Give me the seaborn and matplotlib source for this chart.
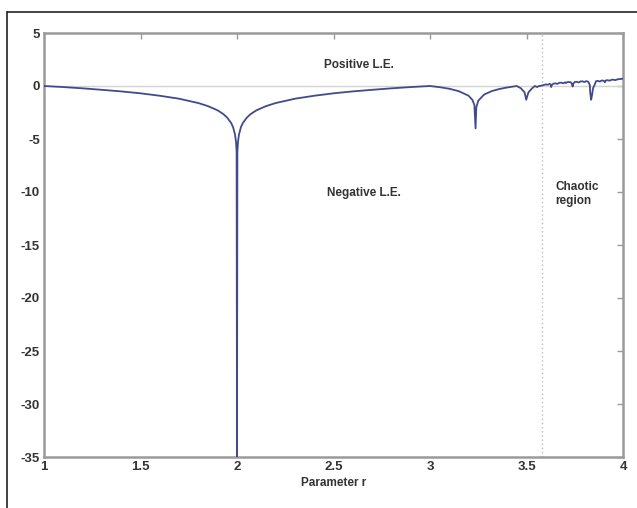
import matplotlib
matplotlib.use("Agg")
import matplotlib.pyplot as plt
import seaborn as sns
import pandas as pd
from matplotlib.lines import Line2D

# Values (parameter r, Lyapunov exponent)
r_values = [
    1.0, 1.1, 1.2, 1.3, 1.4, 1.5, 1.6, 1.7, 1.8, 1.85, 1.9, 1.93, 1.95, 1.97,
    1.98, 1.99, 1.995, 1.998, 2.0, 2.002, 2.005, 2.01, 2.02, 2.03, 2.05, 2.07,
    2.1, 2.15, 2.2, 2.3, 2.4, 2.5, 2.6, 2.7, 2.8, 2.9, 3.0,
    3.05, 3.1, 3.15, 3.2, 3.22, 3.23, 3.236, 3.24, 3.25, 3.28, 3.32, 3.36,
    3.4, 3.449,
    3.47, 3.49, 3.4986, 3.51, 3.53, 3.544, 3.555, 3.5644, 3.57,
    3.575, 3.58, 3.59, 3.60, 3.61, 3.62, 3.625, 3.628, 3.631, 3.64, 3.65,
    3.66, 3.67, 3.68, 3.69, 3.70, 3.705, 3.71, 3.72, 3.73, 3.735, 3.739,
    3.742, 3.75, 3.76, 3.77, 3.78, 3.79, 3.80, 3.81, 3.82, 3.828, 3.83,
    3.835, 3.84, 3.845, 3.855, 3.86, 3.87, 3.88, 3.89, 3.90, 3.906, 3.91,
    3.92, 3.93, 3.94, 3.95, 3.96, 3.97, 3.98, 3.99, 4.0,
]
le_values = [
    0.0, -0.1, -0.22, -0.36, -0.51, -0.69, -0.92, -1.2, -1.61, -1.9, -2.3,
    -2.66, -3.0, -3.5, -3.9, -4.6, -5.3, -6.2, -35.0, -6.2, -5.3, -4.6, -3.9,
    -3.5, -3.0, -2.66, -2.3, -1.9, -1.61, -1.2, -0.92, -0.69, -0.51, -0.36,
    -0.22, -0.1, 0.0,
    -0.11, -0.26, -0.49, -0.92, -1.32, -1.8, -4.0, -2.0, -1.39, -0.81, -0.48,
    -0.28, -0.14, 0.0,
    -0.2, -0.6, -1.3, -0.6, -0.2, 0.0, -0.1, 0.0, 0.0,
    0.02, 0.05, 0.1, 0.15, 0.12, 0.2, 0.15, -0.1, 0.1, 0.22, 0.25,
    0.2, 0.3, 0.32, 0.25, 0.35, 0.28, 0.36, 0.38, 0.35, 0.2, -0.05,
    0.2, 0.38, 0.4, 0.33, 0.43, 0.44, 0.38, 0.46, 0.4, 0.1, -0.6,
    -1.3, -0.8, -0.2, 0.2, 0.45, 0.48, 0.42, 0.52, 0.5, 0.35, 0.52,
    0.55, 0.5, 0.58, 0.6, 0.55, 0.62, 0.65, 0.67, 0.69,
]
x_ticks = [1, 1.5, 2, 2.5, 3, 3.5, 4]
x_tick_labels = ["1", "1.5", "2", "2.5", "3", "3.5", "4"]
y_ticks = [5, 0, -5, -10, -15, -20, -25, -30, -35]
y_tick_labels = ["5", "0", "-5", "-10", "-15", "-20", "-25", "-30", "-35"]
chaos_onset = 3.58

df = pd.DataFrame({"r": r_values, "le": le_values})

sns.set_style("white")
plt.rcParams["font.family"] = ["Liberation Sans", "DejaVu Sans"]

fig = plt.figure(figsize=(6.37, 5.08), dpi=100)
ax = fig.add_axes([44 / 637, 51 / 508, 579 / 637, 424 / 508])

ax.axhline(0, color="#d4d4d4", lw=1.0, zorder=1)
ax.axvline(chaos_onset, color="#bdbdbd", lw=1.0, ls=(0, (1, 2)), zorder=1)

sns.lineplot(data=df, x="r", y="le", ax=ax, color="#414a8c", lw=1.3,
             sort=False, estimator=None, zorder=3)

ax.set_xlim(1, 4)
ax.set_ylim(-35, 5)
ax.set_xticks(x_ticks)
ax.set_xticklabels(x_tick_labels)
ax.set_yticks(y_ticks)
ax.set_yticklabels(y_tick_labels)
ax.set_xlabel("Parameter r", fontsize=8.5, fontweight="bold", color="#333333",
              labelpad=3)
ax.set_ylabel("")

for s in ax.spines.values():
    s.set_color("#9a9a9a")
    s.set_linewidth(1.8)
    s.set_visible(True)

ax.tick_params(axis="both", which="both", direction="in", length=4, width=1,
               color="#9a9a9a", top=True, right=True, labelsize=9.5,
               labelcolor="#333333", pad=3)
for lbl in ax.get_xticklabels() + ax.get_yticklabels():
    lbl.set_fontweight("bold")

ax.text(2.63, 2.0, "Positive L.E.", ha="center", va="center", fontsize=8.5,
        fontweight="bold", color="#333333")
ax.text(2.66, -10.1, "Negative L.E.", ha="center", va="center", fontsize=8.5,
        fontweight="bold", color="#333333")
ax.text(3.65, -10.2, "Chaotic\nregion", ha="left", va="center", fontsize=8.5,
        fontweight="bold", color="#333333", linespacing=1.3)

# outer frame (left and top edges of the original picture)
fig.add_artist(Line2D([7 / 637, 7 / 637], [0, 1 - 12 / 508],
                      transform=fig.transFigure, color="#222222", lw=1.2))
fig.add_artist(Line2D([7 / 637, 1], [1 - 12 / 508, 1 - 12 / 508],
                      transform=fig.transFigure, color="#222222", lw=1.2))

fig.savefig("out.png", dpi=100)
